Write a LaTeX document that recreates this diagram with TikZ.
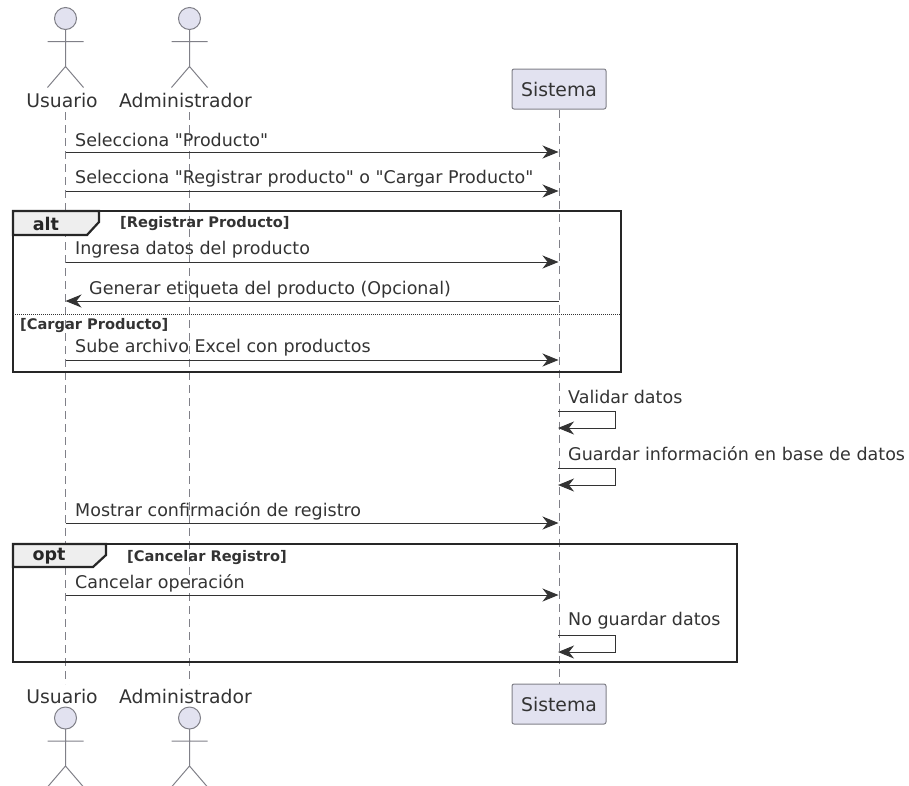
\documentclass[tikz,border=0pt]{standalone}
\usepackage{fontspec}
\setmainfont{DejaVu Sans}[Ligatures=TeXOff]
\usetikzlibrary{positioning,arrows.meta}
\definecolor{actorfill}{HTML}{E2E2F0}
\definecolor{actorline}{HTML}{808088}
\definecolor{inktext}{HTML}{333333}
\definecolor{tabfill}{HTML}{EEEEEE}
\tikzset{
  lifeline/.style={draw=actorline,dashed,dash pattern=on 8pt off 5pt,line width=0.8pt},
  actorname/.style={font=\fontsize{18.8}{21}\selectfont,text=inktext,inner sep=0pt},
  msglabel/.style={font=\fontsize{17.5}{20}\selectfont,text=inktext,inner sep=0pt,anchor=west},
  msgline/.style={draw=black!80,line width=1pt,-{Stealth[length=16pt,width=13pt,inset=5pt]}},
  framebox/.style={draw=black!85,line width=2.2pt},
  framehead/.style={font=\bfseries\fontsize{17.5}{20}\selectfont,text=black!85,inner sep=0pt},
  guardlabel/.style={font=\bfseries\fontsize{14.6}{17}\selectfont,text=black!80,inner sep=0pt,anchor=west},
  partbox/.style={draw=actorline,fill=actorfill,rounded corners=2pt,line width=1pt,minimum width=94pt,minimum height=40pt,inner sep=0pt,text=inktext,font=\fontsize{18.8}{21}\selectfont}
}
\newcommand\actorman[2]{% x, y of head centre
  \draw[draw=actorline,fill=actorfill,line width=1pt] (#1,#2) circle (11);
  \draw[draw=actorline,line width=1pt] (#1,#2+11) -- (#1,#2+48) (#1-18,#2+23) -- (#1+18,#2+23)
    (#1-18,#2+69) -- (#1,#2+48) -- (#1+18,#2+69);
}
\newcommand\selfmsg[3]{% name, y, text
  \coordinate (#1a) at (558,#2);
  \coordinate (#1b) at (558,#2+17);
  \draw[msgline] (#1a) -- ++(57.5,0) -- ++(0,17) -- (#1b);
  \node[msglabel] (#1) at (568,#2-14) {#3};
}
\begin{document}
\begin{tikzpicture}[x=1pt,y=-1pt]
  \useasboundingbox (0,0) rectangle (909,785);
  \def\xU{65.5} % usuario
  \def\xA{189.5} % administrador
  \def\xS{558.5} % sistema

  % participants
  \node[actorname] (usuarioTop) at (62,100) {Usuario};
  \node[actorname] (adminTop) at (185.5,100) {Administrador};
  \node[partbox] (sistemaTop) at (559,89) {Sistema};
  \node[actorname] (usuarioBot) at (62,696) {Usuario};
  \node[actorname] (adminBot) at (185.5,696) {Administrador};
  \node[partbox] (sistemaBot) at (559,704) {Sistema};

  % lifelines
  \coordinate (usuarioA) at (\xU,112);
  \coordinate (usuarioB) at (\xU,684);
  \coordinate (adminA) at (\xA,112);
  \coordinate (adminB) at (\xA,684);
  \draw[lifeline] (usuarioA) -- (usuarioB);
  \draw[lifeline] (adminA) -- (adminB);
  \draw[lifeline] (sistemaTop.south) -- (sistemaBot.north);

  \actorman{\xU}{18.5}
  \actorman{\xA}{18.5}
  \actorman{\xU}{718}
  \actorman{\xA}{718}

  % messages
  \foreach \name/\y/\txt in {selProducto/152/{Selecciona "Producto"},
      selRegistrar/191/{Selecciona "Registrar producto" o "Cargar Producto"},
      ingresa/262/{Ingresa datos del producto},
      sube/360/{Sube archivo Excel con productos},
      mostrar/523/{Mostrar confirmación de registro},
      cancelar/595/{Cancelar operación}}{
    \coordinate (\name U) at (\xU,\y);
    \coordinate (\name S) at (\xS,\y);
    \draw[msgline] (\name U) -- (\name S);
    \node[msglabel] (\name) at (75,\y-12) {\txt};
  }
  \coordinate (generarS) at (\xS,301);
  \coordinate (generarU) at (\xU,301);
  \draw[msgline] (generarS) -- (generarU);
  \node[msglabel] (generar) at (89,290) {Generar etiqueta del producto (Opcional)};

  \selfmsg{validar}{411}{Validar datos}
  \selfmsg{guardar}{468}{Guardar información en base de datos}
  \selfmsg{noguardar}{635}{No guardar datos}

  % alt
  \draw[framebox] (13,211) rectangle (621,372);
  \draw[framebox,fill=tabfill] (13,211) -- (99,211) -- (99,222) -- (87,235) -- (13,235) -- cycle;
  \node[framehead] (altHead) at (46,224) {alt};
  \node[guardlabel] (altGuard) at (120,224) {[Registrar Producto]};
  \draw[draw=black!80,line width=1pt,densely dotted] (13,314) -- (621,314);
  \node[guardlabel] (altElse) at (20,325.5) {[Cargar Producto]};

  % opt
  \draw[framebox] (13,544) rectangle (737,662);
  \draw[framebox,fill=tabfill] (13,544) -- (106,544) -- (106,555) -- (93,567) -- (13,567) -- cycle;
  \node[framehead] (optHead) at (49,556) {opt};
  \node[guardlabel] (optGuard) at (127,557.5) {[Cancelar Registro]};
\end{tikzpicture}
\end{document}
